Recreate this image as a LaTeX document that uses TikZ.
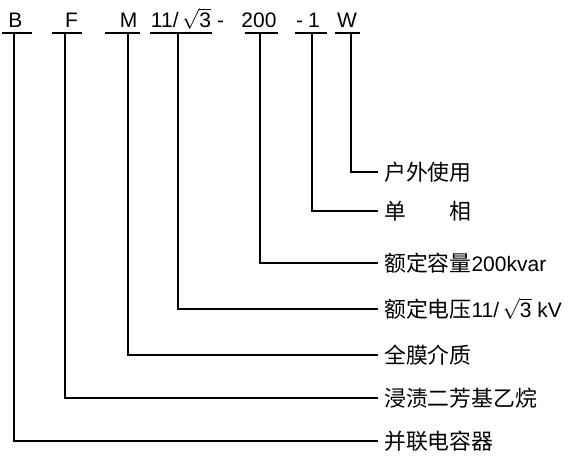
\documentclass[tikz,border=0pt]{standalone}
\usepackage{amsmath}
\usepackage{fontspec}
\setmainfont{Liberation Sans}
\newfontfamily\cjk[Scale=1.04]{Noto Sans CJK SC}
\newcommand{\rtthree}{$\sqrt{\mbox{\raisebox{0pt}[14pt][0pt]{3}}}$}
\begin{document}
\begin{tikzpicture}[x=1pt,y=-1pt,
  codetext/.style={font=\fontsize{21}{25}\selectfont, inner sep=0pt, anchor=base},
  desc/.style={font=\fontsize{21}{25}\selectfont, inner ysep=0pt, inner xsep=7pt,
    text height=18.5pt, text depth=2.5pt, anchor=west},
  lead/.style={line width=1.4pt, line cap=rect},
  uline/.style={line width=1.4pt}]
\useasboundingbox (0,0) rectangle (575,464);
% code letters
\node[codetext] (cB) at (15.5,27) {B};
\node[codetext] (cF) at (71.5,27) {F};
\node[codetext] (cM) at (128.5,27) {M};
\node[codetext] (cV) at (181,27) {11/\,\rtthree};
\node[codetext] (cD1) at (220.5,27) {-};
\node[codetext] (cC) at (259,27) {200};
\node[codetext] (cD2) at (299.5,27) {-};
\node[codetext] (cP) at (314,27) {1};
\node[codetext] (cW) at (347,27) {W};
% underlines
\coordinate (uBa) at (2,33);   \coordinate (uBb) at (32,33);
\coordinate (uFa) at (52,33);  \coordinate (uFb) at (82,33);
\coordinate (uMa) at (105,33); \coordinate (uMb) at (140,33);
\coordinate (uVa) at (150,33); \coordinate (uVb) at (212,33);
\coordinate (uCa) at (245,33); \coordinate (uCb) at (278,33);
\coordinate (uPa) at (295,33); \coordinate (uPb) at (327,33);
\coordinate (uWa) at (335,33); \coordinate (uWb) at (360,33);
\foreach \k in {B,F,M,V,C,P,W} \draw[uline] (u\k a) -- (u\k b);
% tops of leaders
\coordinate (vB) at (14,33);
\coordinate (vF) at (65,33);
\coordinate (vM) at (128,33);
\coordinate (vV) at (178,33);
\coordinate (vC) at (260,33);
\coordinate (vP) at (312,33);
\coordinate (vW) at (351,33);
% descriptions
\node[desc] (dW) at (377,172) {\cjk 户外使用};
\node[desc] (dP) at (377,211) {\cjk 单\hspace{2em}相};
\node[desc] (dC) at (377,263) {{\cjk 额定容量}200kvar};
\node[desc] (dV) at (377,309) {{\cjk 额定电压}11/\,\rtthree\ kV};
\node[desc] (dM) at (377,355) {\cjk 全膜介质};
\node[desc] (dF) at (377,398) {\cjk 浸渍二芳基乙烷};
\node[desc] (dB) at (377,441) {\cjk 并联电容器};
% leaders
\foreach \k in {B,F,M,V,C,P,W} \draw[lead] (v\k) |- (d\k.west);
\end{tikzpicture}
\end{document}
